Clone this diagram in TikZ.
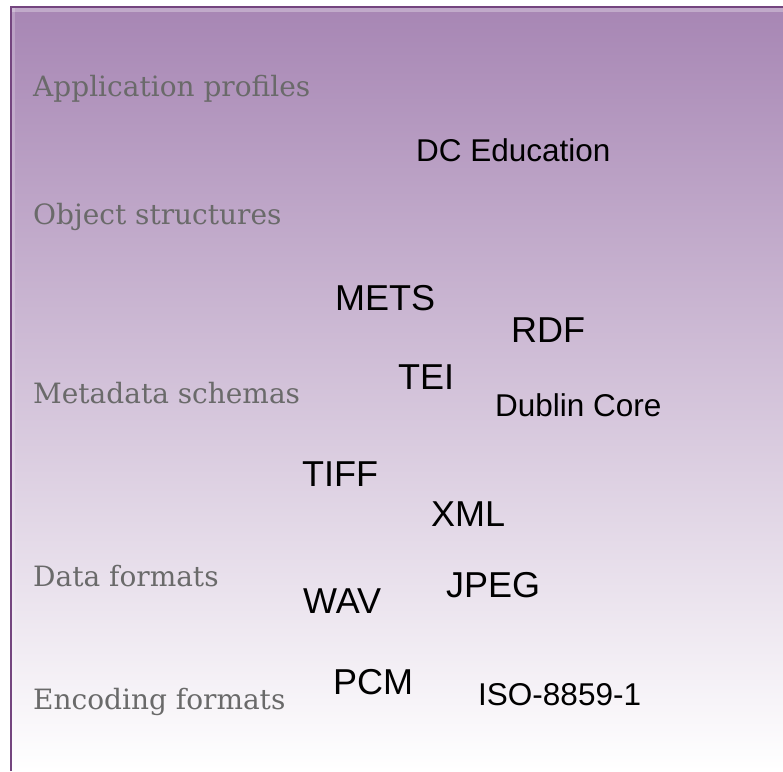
\documentclass[tikz,border=0pt]{standalone}
\usepackage{fontspec}
\newfontfamily\sansf{Liberation Sans}
\newfontfamily\slabf{DejaVu Serif}
\definecolor{bgtop}{HTML}{A786B4}
\definecolor{bgbot}{HTML}{FFFFFF}
\definecolor{framec}{HTML}{74457F}
\definecolor{labc}{HTML}{6A6A6A}
\tikzset{
  layer/.style={anchor=base west, inner sep=0pt, text=labc, font=\slabf\fontsize{28}{32}\selectfont},
  big/.style={anchor=base west, inner sep=0pt, text=black, font=\sansf\fontsize{36}{40}\selectfont},
  small/.style={anchor=base west, inner sep=0pt, text=black, font=\sansf\fontsize{31.5}{36}\selectfont},
}
\begin{document}
\begin{tikzpicture}[x=1pt,y=-1pt]
\useasboundingbox (0,0) rectangle (783,771);
\fill[white] (0,0) rectangle (783,771);
\shade[top color=bgtop, bottom color=bgbot] (11,7) rectangle (783,771);
\fill[white, opacity=0.3] (12,8) rectangle (783,12);
\fill[white, opacity=0.2] (12,8) rectangle (15,771);
\draw[framec, line width=2.6pt] (11,771) -- (11,7) -- (783,7);
% layer labels
\node[layer] (ap) at (33,96) {Application profiles};
\node[layer] (os) at (33,224) {Object structures};
\node[layer] (ms) at (33,403) {Metadata schemas};
\node[layer] (df) at (33,586) {Data formats};
\node[layer] (ef) at (33,709) {Encoding formats};
% items
\node[small] (dce) at (416,161) {DC Education};
\node[big] (mets) at (335,310) {METS};
\node[big] (rdf) at (511,342) {RDF};
\node[big] (tei) at (398,389) {TEI};
\node[small] (dc) at (495,416) {Dublin Core};
\node[big] (tiff) at (302,486) {TIFF};
\node[big] (xml) at (431,526) {XML};
\node[big] (wav) at (303,613) {WAV};
\node[big] (jpeg) at (446,597) {JPEG};
\node[big] (pcm) at (333,694) {PCM};
\node[small] (iso) at (478,705) {ISO-8859-1};
\end{tikzpicture}
\end{document}
